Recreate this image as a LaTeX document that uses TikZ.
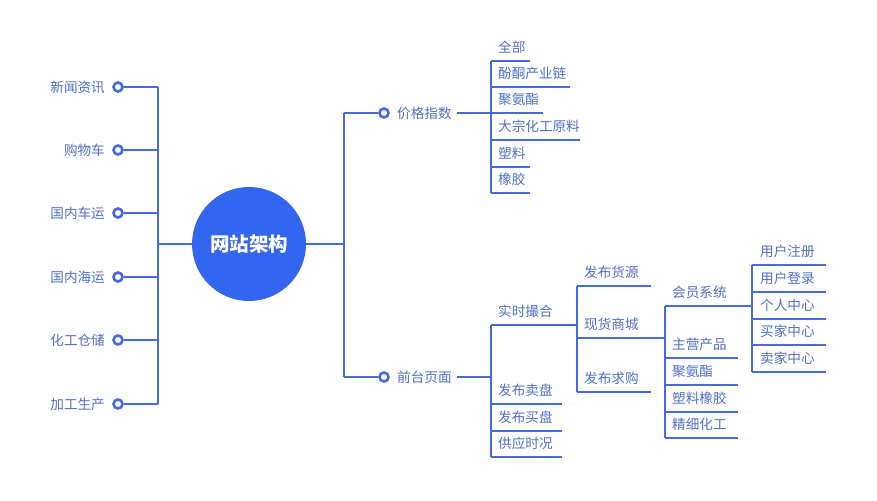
\documentclass[tikz,border=0pt]{standalone}
\usepackage{fontspec}
\setmainfont{Noto Sans CJK SC}
\definecolor{ln}{HTML}{4469E0}
\definecolor{tx}{HTML}{5070C8}
\definecolor{hubc}{HTML}{3366F0}
\begin{document}
\begin{tikzpicture}[x=1pt,y=-1pt,
  conn/.style={draw=ln,line width=1.2pt},
  dot/.style={circle,draw=ln,fill=white,line width=2.6pt,inner sep=0pt,minimum size=9pt},
  lab/.style={text=tx,font=\fontsize{13.6}{15}\selectfont,inner sep=0pt},
  hubnode/.style={circle,fill=hubc,text=white,minimum size=114pt,inner sep=0pt,font=\fontsize{19.5}{22}\selectfont\bfseries}]
\useasboundingbox (0,0) rectangle (877,500);
\fill[white] (0,0) rectangle (877,500);
% left side
\foreach \y/\t [count=\i] in {87/新闻资讯,150/购物车,213/国内车运,277/国内海运,340/化工仓储,404/加工生产}{
  \node[dot] (d\i) at (118,\y) {};
  \node[lab,anchor=east] (l\i) at (105,\y) {\t};
  \coordinate (j\i) at (158,\y);
  \draw[conn] (d\i) -- (j\i);
}
\draw[conn] (j1) -- (j6);
\node[hubnode] (hub) at (249,244) {网站架构};
\coordinate (jl) at (158,244);
\coordinate (jr) at (344,244);
\draw[conn] (jl) -- (hub);
\draw[conn] (hub) -- (jr);
\coordinate (r1) at (344,113);
\coordinate (r2) at (344,377);
\draw[conn] (r1) -- (r2);
% price index
\node[dot] (p1) at (384,113) {};
\node[lab,anchor=west] (pt1) at (397,113) {价格指数};
\draw[conn] (r1) -- (p1);
\coordinate (q1s) at (457,113);
\coordinate (q1) at (491,113);
\draw[conn] (q1s) -- (q1);
\foreach \y/\e/\t [count=\i] in {61/530/全部,87/570/酚酮产业链,113/543/聚氨酯,140/580/大宗化工原料,167/530/塑料,193/530/橡胶}{
  \coordinate (a\i) at (491,\y);
  \coordinate (ae\i) at (\e,\y);
  \draw[conn] (a\i) -- (ae\i);
  \node[lab,anchor=west] (at\i) at (498,{\y-13.5}) {\t};
}
\draw[conn] (a1) -- (a6);
% front pages
\node[dot] (p2) at (384,377) {};
\node[lab,anchor=west] (pt2) at (397,377) {前台页面};
\draw[conn] (r2) -- (p2);
\coordinate (q2s) at (457,377);
\coordinate (q2) at (491,377);
\draw[conn] (q2s) -- (q2);
\foreach \y/\e/\t [count=\i] in {325/577/实时撮合,404/562/发布卖盘,431/562/发布买盘,457/562/供应时况}{
  \coordinate (b\i) at (491,\y);
  \coordinate (be\i) at (\e,\y);
  \draw[conn] (b\i) -- (be\i);
  \node[lab,anchor=west] (bt\i) at (498,{\y-13.5}) {\t};
}
\draw[conn] (b1) -- (b4);
\foreach \y/\e/\t [count=\i] in {286/651/发布货源,338/665/现货商城,392/651/发布求购}{
  \coordinate (c\i) at (577,\y);
  \coordinate (ce\i) at (\e,\y);
  \draw[conn] (c\i) -- (ce\i);
  \node[lab,anchor=west] (ct\i) at (584,{\y-13.5}) {\t};
}
\draw[conn] (c1) -- (c3);
\foreach \y/\e/\t [count=\i] in {306/752/会员系统,358/738/主营产品,385/738/聚氨酯,412/738/塑料橡胶,438/738/精细化工}{
  \coordinate (m\i) at (665,\y);
  \coordinate (me\i) at (\e,\y);
  \draw[conn] (m\i) -- (me\i);
  \node[lab,anchor=west] (mt\i) at (672,{\y-13.5}) {\t};
}
\draw[conn] (m1) -- (m5);
\foreach \y/\t [count=\i] in {265/用户注册,292/用户登录,319/个人中心,345/买家中心,372/卖家中心}{
  \coordinate (u\i) at (752,\y);
  \coordinate (ue\i) at (826,\y);
  \draw[conn] (u\i) -- (ue\i);
  \node[lab,anchor=west] (ut\i) at (760,{\y-13.5}) {\t};
}
\draw[conn] (u1) -- (u5);
\end{tikzpicture}
\end{document}
